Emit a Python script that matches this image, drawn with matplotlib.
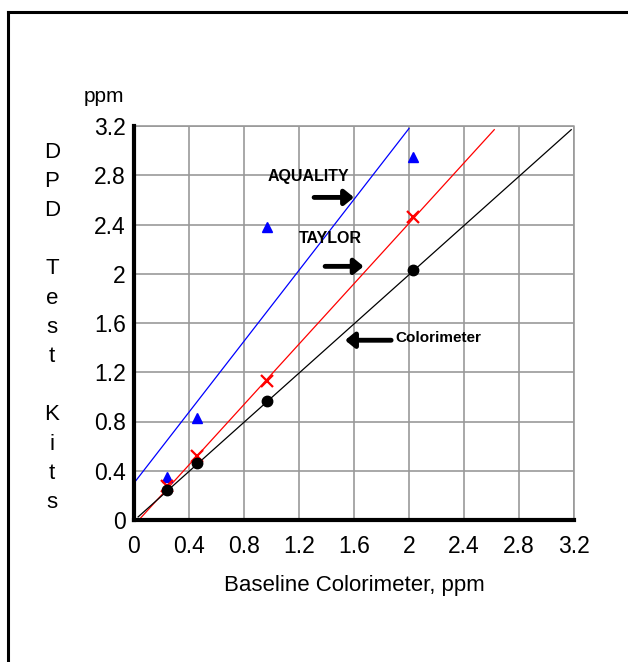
import numpy as np
import matplotlib
matplotlib.use('Agg')
import matplotlib.pyplot as plt
from matplotlib.lines import Line2D

plt.rcParams['font.family'] = ['Liberation Sans', 'DejaVu Sans']

# Messwerte
baseline = [0.24, 0.46, 0.97, 2.03]
colorimeter = [0.24, 0.46, 0.97, 2.03]
taylor = [0.28, 0.52, 1.13, 2.46]
aquality = [0.35, 0.83, 2.38, 2.95]

# Trendlinien (Endpunkte)
fit_aq_x, fit_aq_y = [0.0, 2.0], [0.30, 3.18]
fit_ta_x, fit_ta_y = [0.035, 2.62], [0.0, 3.17]
fit_co_x, fit_co_y = [0.03, 3.18], [0.025, 3.17]

ticks = [0, 0.4, 0.8, 1.2, 1.6, 2.0, 2.4, 2.8, 3.2]
ticklabels = ['0', '0.4', '0.8', '1.2', '1.6', '2', '2.4', '2.8', '3.2']
ylabel_letters = list('DPD') + [''] + list('Test') + [''] + list('Kits')

fig = plt.figure(figsize=(6.28, 6.62), dpi=100)
ax = fig.add_axes([134 / 628, 1 - 520 / 662, 440 / 628, 394 / 662])

ax.plot(fit_aq_x, fit_aq_y, '-', color='#0000ff', lw=0.9)
ax.plot(fit_ta_x, fit_ta_y, '-', color='#ff0000', lw=0.9)
ax.plot(fit_co_x, fit_co_y, '-', color='black', lw=0.9)
ax.plot(baseline, aquality, '^', color='#0000ff', ms=7, clip_on=False)
ax.plot(baseline, taylor, 'x', color='#ff0000', ms=8, mew=1.6, clip_on=False)
ax.plot(baseline, colorimeter, 'o', color='black', ms=7.5, clip_on=False)

ax.set_xlim(0, 3.2)
ax.set_ylim(0, 3.2)
ax.set_xticks(ticks)
ax.set_yticks(ticks)
ax.set_xticklabels(ticklabels)
ax.set_yticklabels(ticklabels)
ax.tick_params(length=0, labelsize=16.5)
ax.tick_params(axis='x', pad=11)
ax.tick_params(axis='y', pad=6)
ax.grid(True, color='#999999', lw=1.2)
ax.set_axisbelow(True)
for s in ['top', 'right']:
    ax.spines[s].set_visible(False)
for s in ['left', 'bottom']:
    ax.spines[s].set_linewidth(3)
ax.plot([0, 3.2, 3.2], [3.2, 3.2, 0], color='#999999', lw=1.2, clip_on=False, zorder=0.5)

ax.set_xlabel('Baseline Colorimeter, ppm', fontsize=16, labelpad=12)
fig.text(104 / 628, 1 - 97 / 662, 'ppm', fontsize=15, ha='center', va='center')
for i, ch in enumerate(ylabel_letters):
    fig.text(52 / 628, 1 - (152 + i * 29.2) / 662, ch, fontsize=16,
             ha='center', va='center')

# Beschriftungen mit Pfeilen
arrow = dict(arrowstyle='-|>,head_length=0.55,head_width=0.45', lw=3.5,
             color='black', shrinkA=0, shrinkB=0)
ax.text(1.27, 2.79, 'AQUALITY', fontsize=11.5, fontweight='bold', ha='center', va='center')
ax.annotate('', xy=(1.60, 2.62), xytext=(1.31, 2.62), arrowprops=arrow)
ax.text(1.43, 2.29, 'TAYLOR', fontsize=11.5, fontweight='bold', ha='center', va='center')
ax.annotate('', xy=(1.67, 2.06), xytext=(1.39, 2.06), arrowprops=arrow)
ax.text(1.90, 1.48, 'Colorimeter', fontsize=11, fontweight='bold', ha='left', va='center')
ax.annotate('', xy=(1.535, 1.46), xytext=(1.87, 1.46), arrowprops=arrow)

# Rahmen
fig.add_artist(Line2D([8 / 628, 8 / 628], [0, 1 - 11.5 / 662], color='black', lw=2.2))
fig.add_artist(Line2D([8 / 628, 1], [1 - 11.5 / 662, 1 - 11.5 / 662], color='black', lw=2.2))

fig.savefig('out.png', dpi=100)
